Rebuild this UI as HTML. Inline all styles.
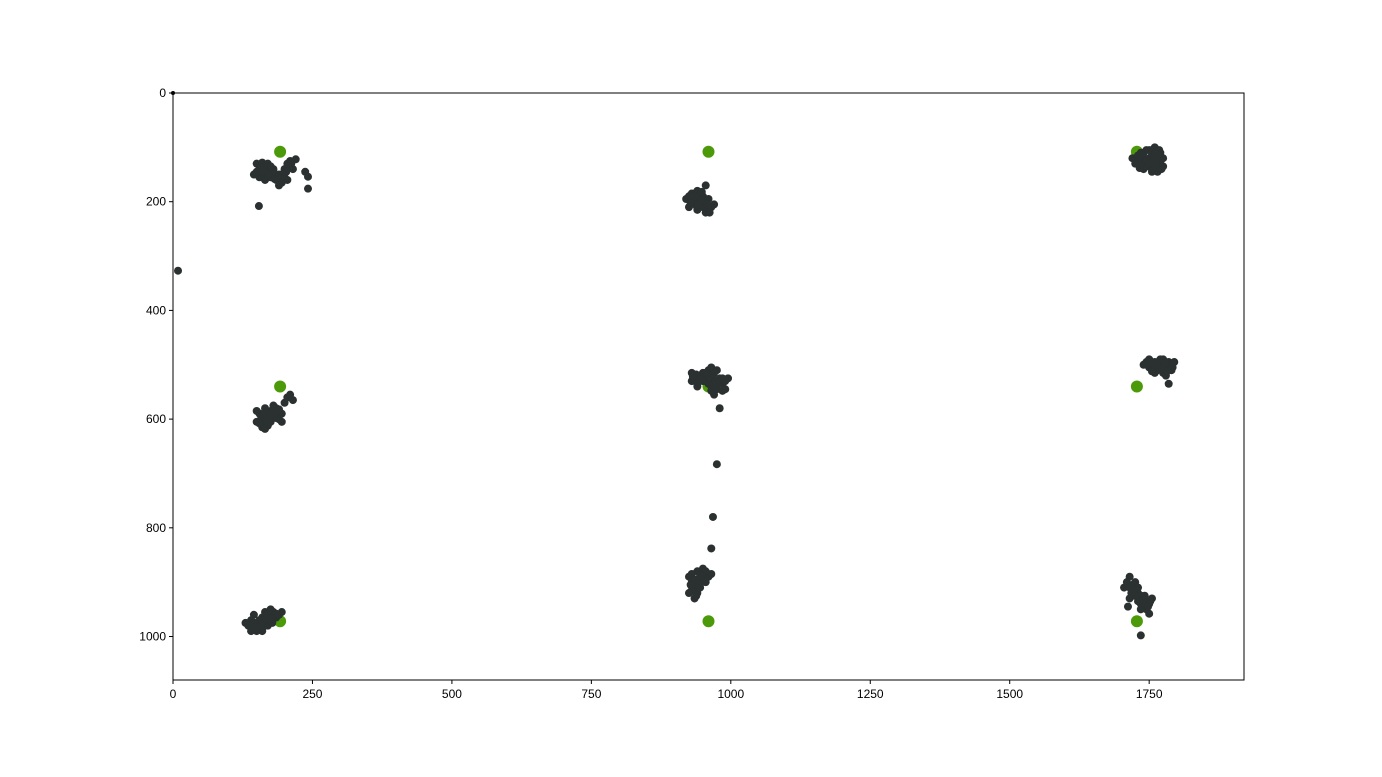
<!DOCTYPE html>
<html><head><meta charset="utf-8"><style>
body{margin:0;background:#fff;}
svg{display:block;font-family:"Liberation Sans",sans-serif;}
</style></head><body>
<svg id="chart" width="1382" height="777" xmlns="http://www.w3.org/2000/svg"></svg>
<script>
const xTicks=[0,250,500,750,1000,1250,1500,1750];
const yTicks=[0,200,400,600,800,1000];
const centers=[[192,108],[960,108],[1728,108],[192,540],[960,540],[1728,540],[192,972],[960,972],[1728,972]];
const points=[
[150,130],[155,140],[160,150],[165,135],[170,145],[175,155],[180,140],[160,128],[170,130],[145,150],[185,160],[190,150],[195,165],[200,155],[205,130],[210,125],[215,140],[200,140],[220,122],[205,160],[190,170],[180,145],[155,155],[165,160],[154,208],[237,145],[242,154],[242,176],[9,327],
[158,138],[168,140],[175,135],[150,145],[162,145],[172,150],[208,135],[212,130],[198,148],[195,158],[203,145],[188,155],[182,158],
[920,195],[930,185],[940,180],[935,200],[925,210],[945,205],[950,190],[955,170],[960,195],[965,210],[970,205],[955,220],[945,190],[930,200],[940,215],[960,215],[950,210],[925,190],
[935,190],[945,197],[952,200],[958,205],[962,220],[938,207],[948,182],[928,203],
[1720,120],[1730,115],[1740,110],[1750,105],[1760,100],[1770,110],[1775,120],[1765,130],[1755,140],[1745,135],[1735,130],[1740,120],[1750,120],[1760,115],[1770,125],[1755,145],[1765,145],[1730,125],[1745,105],[1775,135],[1725,130],[1760,125],
[1735,110],[1745,125],[1755,115],[1765,115],[1750,130],[1740,140],[1760,135],[1768,105],[1755,105],[1733,138],[1772,140],
[150,605],[155,590],[160,600],[165,610],[170,595],[175,585],[180,575],[185,590],[190,600],[195,590],[175,605],[160,615],[150,585],[200,570],[205,560],[210,555],[215,565],[185,580],[165,580],[195,605],
[158,595],[168,600],[178,595],[185,598],[172,588],[162,590],[155,608],[170,612],[190,582],[180,585],[165,618],
[930,515],[935,525],[940,535],[945,520],[950,515],[955,530],[960,510],[965,505],[970,515],[975,510],[980,525],[985,535],[990,545],[975,545],[970,555],[960,535],[950,530],[940,540],[930,530],[965,540],[980,580],[995,525],[990,530],[975,683],[968,780],[965,838],
[938,518],[948,525],[958,520],[968,525],[978,535],[985,525],[972,530],[942,528],[955,515],[965,548],[985,548],[932,522],
[1740,500],[1745,495],[1750,490],[1755,505],[1760,495],[1765,510],[1770,500],[1775,490],[1780,505],[1785,495],[1790,500],[1795,495],[1775,515],[1760,515],[1780,520],[1785,535],[1750,505],[1770,490],[1790,510],
[1748,500],[1758,502],[1768,495],[1778,498],[1788,505],[1765,503],[1782,512],[1772,508],[1755,512],[1792,505],
[925,890],[930,900],[935,910],[940,880],[945,895],[950,885],[955,900],[960,890],[965,885],[940,920],[935,930],[925,920],[945,910],[950,875],[930,885],[955,880],
[935,895],[942,905],[948,900],[930,915],[938,925],[952,893],[945,888],[928,905],
[135,980],[140,970],[145,960],[150,975],[155,985],[160,965],[165,955],[170,970],[175,960],[180,955],[185,965],[190,960],[195,955],[160,990],[150,990],[170,980],[140,990],[130,975],[175,950],[165,980],
[145,975],[155,970],[165,968],[175,968],[185,958],[158,978],[148,982],[168,960],[178,975],
[1705,910],[1710,900],[1715,890],[1720,905],[1725,915],[1730,920],[1735,925],[1740,930],[1745,935],[1750,940],[1755,930],[1740,945],[1730,935],[1720,925],[1712,945],[1750,958],[1725,900],[1735,940],[1745,950],[1715,930],[1735,998],
[1715,910],[1722,915],[1730,910],[1738,935],[1748,945],[1725,925],[1718,920],[1742,925],[1735,950],[1752,935]
];
const L=173,R=1244,T=93,B=680,XMAX=1920,YMAX=1080;
const sx=v=>L+v/XMAX*(R-L), sy=v=>T+v/YMAX*(B-T);
const svg=document.getElementById('chart'),NS='http://www.w3.org/2000/svg';
function mk(t,a){const e=document.createElementNS(NS,t);for(const k in a)e.setAttribute(k,a[k]);svg.appendChild(e);return e;}
const frame=mk('rect',{x:L,y:T,width:R-L,height:B-T,fill:'none',stroke:'#000','stroke-width':1});


xTicks.forEach(v=>{
 const l=mk('line',{x1:sx(v),x2:sx(v),y1:B,y2:B+4,stroke:'#000'});
 
 
 const t=mk('text',{x:sx(v),y:B+18,'text-anchor':'middle','font-size':12});t.textContent=v;
 
 
});
yTicks.forEach(v=>{
 const l=mk('line',{x1:L-4,x2:L,y1:sy(v),y2:sy(v),stroke:'#000'});
 
 
 const t=mk('text',{x:L-7,y:sy(v)+4,'text-anchor':'end','font-size':12});t.textContent=v;
 
 
});
centers.forEach(p=>{
 const c=mk('circle',{cx:sx(p[0]),cy:sy(p[1]),r:6,fill:'#4c9a0a'});
 
 
});
points.forEach(p=>{
 const c=mk('circle',{cx:sx(p[0]),cy:sy(p[1]),r:4,fill:'#2b3030'});
 
 
});
const o=mk('circle',{cx:sx(0),cy:sy(0),r:2,fill:'#000'});


</script>
</body></html>
